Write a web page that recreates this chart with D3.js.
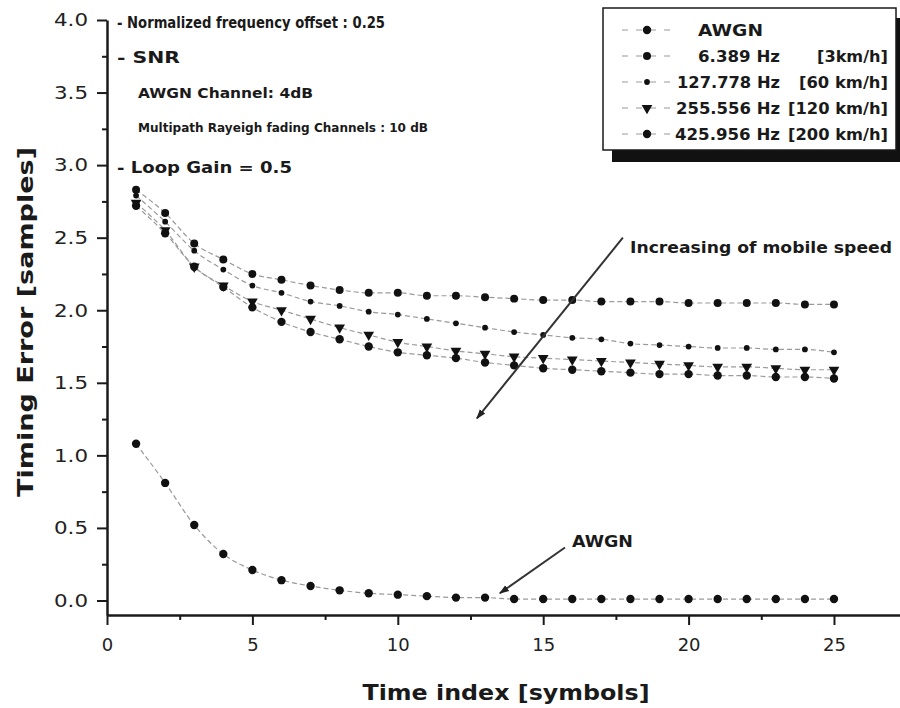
<!DOCTYPE html>
<html>
<head>
<meta charset="utf-8">
<script src="https://cdn.jsdelivr.net/npm/d3@7"></script>
<style>
  body { margin: 0; background: #fff; }
  svg { display: block; font-family: "DejaVu Sans", "Liberation Sans", Arial, sans-serif; }
</style>
</head>
<body>
<div id="chart"></div>
<script>
// time index
const timeIdx = d3.range(1, 26);

// timing error per series
const awgn = [1.08, 0.81, 0.52, 0.32, 0.21, 0.14, 0.10, 0.07, 0.05, 0.04, 0.03, 0.02, 0.02, 0.01, 0.01, 0.01, 0.01, 0.01, 0.01, 0.01, 0.01, 0.01, 0.01, 0.01, 0.01];
const hz6 = [2.83, 2.67, 2.46, 2.35, 2.25, 2.21, 2.17, 2.14, 2.12, 2.12, 2.10, 2.10, 2.09, 2.08, 2.07, 2.07, 2.06, 2.06, 2.06, 2.05, 2.05, 2.05, 2.05, 2.04, 2.04];
const hz127 = [2.79, 2.61, 2.41, 2.28, 2.17, 2.12, 2.06, 2.03, 1.99, 1.97, 1.94, 1.91, 1.88, 1.85, 1.83, 1.81, 1.80, 1.77, 1.76, 1.75, 1.74, 1.74, 1.73, 1.73, 1.71];
const hz255 = [2.74, 2.55, 2.30, 2.17, 2.06, 2.00, 1.94, 1.88, 1.83, 1.78, 1.75, 1.72, 1.70, 1.68, 1.67, 1.66, 1.65, 1.64, 1.63, 1.62, 1.61, 1.61, 1.60, 1.59, 1.59];
const hz425 = [2.72, 2.53, 2.30, 2.16, 2.02, 1.92, 1.85, 1.80, 1.75, 1.71, 1.69, 1.67, 1.64, 1.62, 1.60, 1.59, 1.58, 1.57, 1.56, 1.56, 1.55, 1.55, 1.54, 1.54, 1.53];

const legendNames = ["AWGN", "6.389 Hz", "127.778 Hz", "255.556 Hz", "425.956 Hz"];
const legendSpeeds = ["", "[3km/h]", "[60 km/h]", "[120 km/h]", "[200 km/h]"];

const xTicks = [0, 5, 10, 15, 20, 25];
const yTicks = [0, 0.5, 1, 1.5, 2, 2.5, 3, 3.5, 4];

const notes = ["- Normalized frequency offset : 0.25", "- SNR", "AWGN Channel: 4dB", "Multipath Rayeigh fading Channels : 10 dB", "- Loop Gain = 0.5"];

const series = [
  { name: legendNames[0], values: awgn, shape: "circle", size: 55 },
  { name: legendNames[1], values: hz6, shape: "circle", size: 50 },
  { name: legendNames[2], values: hz127, shape: "circle", size: 26 },
  { name: legendNames[3], values: hz255, shape: "tri", size: 50 },
  { name: legendNames[4], values: hz425, shape: "circle", size: 55 }
];

const width = 900, height = 708;
const svg = d3.select("#chart").append("svg")
  .attr("width", width).attr("height", height);

const x = d3.scaleLinear().domain([0, 27.27]).range([107, 900]);
const y = d3.scaleLinear().domain([-0.1, 4.0]).range([615, 20]);

const ink = "#1a1a1a";

// squeeze / stretch a text to the width it has in the picture
function fit(sel, w) {
  sel.attr("textLength", w).attr("lengthAdjust", "spacingAndGlyphs");
  return sel;
}

// axes
svg.append("g")
  .attr("transform", `translate(0,${y(-0.1)})`)
  .call(d3.axisBottom(x).tickValues(xTicks).tickSize(10).tickPadding(13).tickSizeOuter(0));
svg.append("g")
  .attr("transform", `translate(0,${y(-0.1)})`)
  .call(d3.axisBottom(x).tickValues(xTicks.map(d => d + 2.5)).tickSize(5).tickFormat("").tickSizeOuter(0))
  .select(".domain").remove();

svg.append("g")
  .attr("class", "yax")
  .attr("transform", `translate(${x(0)},0)`)
  .call(d3.axisLeft(y).tickValues(yTicks).tickSize(10).tickPadding(9).tickFormat(d3.format(".1f")).tickSizeOuter(0));
svg.append("g")
  .attr("transform", `translate(${x(0)},0)`)
  .call(d3.axisLeft(y).tickValues(yTicks.slice(0, -1).map(d => d + 0.25)).tickSize(5).tickFormat("").tickSizeOuter(0))
  .select(".domain").remove();

svg.selectAll(".domain").attr("stroke", ink).attr("stroke-width", 2.5);
svg.selectAll(".tick line").attr("stroke", ink).attr("stroke-width", 2);
svg.selectAll(".tick text").attr("fill", "#222").style("font-size", "18px")
  .style("font-family", "'DejaVu Sans', sans-serif");
svg.selectAll(".yax .tick text").call(fit, 34);

// axis titles
svg.append("text")
  .attr("x", 506).attr("y", 700)
  .attr("text-anchor", "middle")
  .style("font-size", "22px").style("font-weight", "bold")
  .attr("fill", ink)
  .text("Time index [symbols]")
  .call(fit, 287);

svg.append("text")
  .attr("transform", `translate(33,322) rotate(-90)`)
  .attr("text-anchor", "middle")
  .style("font-size", "22px").style("font-weight", "bold")
  .attr("fill", ink)
  .text("Timing Error [samples]")
  .call(fit, 350);

// series lines
const line = d3.line()
  .x((d, i) => x(timeIdx[i]))
  .y(d => y(d))
  .curve(d3.curveMonotoneX);

const triangle = d3.symbol().type(d3.symbolTriangle);
const circle = d3.symbol().type(d3.symbolCircle);

series.forEach(s => {
  svg.append("path")
    .datum(s.values)
    .attr("fill", "none")
    .attr("stroke", "#9a9a9a")
    .attr("stroke-width", 1.2)
    .attr("stroke-dasharray", "5,3")
    .attr("d", line);

  svg.append("g").selectAll("path")
    .data(s.values)
    .join("path")
    .attr("d", s.shape === "tri" ? triangle.size(s.size)() : circle.size(s.size)())
    .attr("transform", (d, i) => `translate(${x(timeIdx[i])},${y(d)})` + (s.shape === "tri" ? " rotate(180)" : ""))
    .attr("fill", "#111");
});

// notes top left
const noteX = [117, 117, 138, 138, 117];
const noteY = [28, 63, 98, 132, 173];
const noteW = [268, 63, 175, 290, 175];
const noteSize = [15, 15, 14, 13, 15];
notes.forEach((t, i) => {
  svg.append("text")
    .attr("x", noteX[i]).attr("y", noteY[i])
    .style("font-size", noteSize[i] + "px").style("font-weight", "bold")
    .attr("fill", ink)
    .text(t)
    .call(fit, noteW[i]);
});

// arrow heads
svg.append("defs").append("marker")
  .attr("id", "head")
  .attr("viewBox", "0 0 10 10")
  .attr("refX", 9).attr("refY", 5)
  .attr("markerWidth", 5).attr("markerHeight", 5)
  .attr("orient", "auto")
  .append("path").attr("d", "M0,1.5L10,5L0,8.5Z").attr("fill", "#222");

svg.append("line")
  .attr("x1", x(17.74)).attr("y1", y(2.50))
  .attr("x2", x(12.72)).attr("y2", y(1.255))
  .attr("stroke", "#333").attr("stroke-width", 2)
  .attr("marker-end", "url(#head)");
svg.append("text")
  .attr("x", 630).attr("y", 253)
  .style("font-size", "15px").style("font-weight", "bold")
  .attr("fill", ink)
  .text("Increasing of mobile speed")
  .call(fit, 262);

svg.append("line")
  .attr("x1", x(15.75)).attr("y1", y(0.365))
  .attr("x2", x(13.51)).attr("y2", y(0.05))
  .attr("stroke", "#333").attr("stroke-width", 2)
  .attr("marker-end", "url(#head)");
svg.append("text")
  .attr("x", 572).attr("y", 547)
  .style("font-size", "15px").style("font-weight", "bold")
  .attr("fill", ink)
  .text("AWGN")
  .call(fit, 61);

// legend
const nameW = [65, 82, 103, 104, 105];
const speedW = [0, 71, 89, 100, 100];
const lg = svg.append("g");
lg.append("rect")
  .attr("x", 612).attr("y", 18).attr("width", 292).attr("height", 144)
  .attr("fill", "#111");
lg.append("rect")
  .attr("x", 603).attr("y", 8).attr("width", 293).attr("height", 142)
  .attr("fill", "#fff").attr("stroke", ink).attr("stroke-width", 1.5);

series.forEach((s, i) => {
  const ly = 30 + i * 26;
  lg.append("line")
    .attr("x1", 622).attr("x2", 672).attr("y1", ly).attr("y2", ly)
    .attr("stroke", "#9a9a9a").attr("stroke-width", 1.2).attr("stroke-dasharray", "6,8");
  lg.append("path")
    .attr("d", s.shape === "tri" ? triangle.size(s.size)() : circle.size(s.size)())
    .attr("transform", `translate(647,${ly})` + (s.shape === "tri" ? " rotate(180)" : ""))
    .attr("fill", "#111");
  lg.append("text")
    .attr("x", i === 0 ? 698 : 780).attr("y", ly + 6)
    .attr("text-anchor", i === 0 ? "start" : "end")
    .style("font-size", "16px").style("font-weight", "bold")
    .attr("fill", ink)
    .text(s.name)
    .call(fit, nameW[i]);
  if (legendSpeeds[i]) {
    lg.append("text")
      .attr("x", 888).attr("y", ly + 6)
      .attr("text-anchor", "end")
      .style("font-size", "16px").style("font-weight", "bold")
      .attr("fill", ink)
      .text(legendSpeeds[i])
      .call(fit, speedW[i]);
  }
});
</script>
</body>
</html>
